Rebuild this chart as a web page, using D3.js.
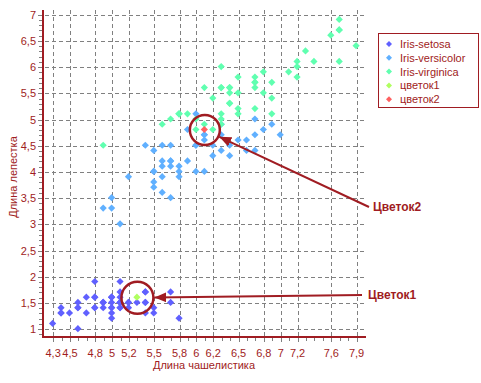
<!DOCTYPE html>
<html><head><meta charset="utf-8">
<script src="https://cdn.jsdelivr.net/npm/d3@7"></script>
<style>body{margin:0;background:#fff}svg{display:block}text{font-family:"Liberation Sans",Arial,sans-serif}</style>
</head><body>
<script>
// Sepal length / petal length pairs per species
const setosaX = [5.1,4.9,4.7,4.6,5.0,5.4,4.6,5.0,4.4,4.9,5.4,4.8,4.8,4.3,5.8,5.7,5.4,5.1,5.7,5.1,5.4,5.1,4.6,5.1,4.8,5.0,5.0,5.2,5.2,4.7,4.8,5.4,5.2,5.5,4.9,5.0,5.5,4.9,4.4,5.1,5.0,4.5,4.4,5.0,5.1,4.8,5.1,4.6,5.3,5.0];
const setosaY = [1.4,1.4,1.3,1.5,1.4,1.7,1.4,1.5,1.4,1.5,1.5,1.6,1.4,1.1,1.2,1.5,1.3,1.4,1.7,1.5,1.7,1.5,1.0,1.7,1.9,1.6,1.6,1.5,1.4,1.6,1.6,1.5,1.5,1.4,1.5,1.2,1.3,1.5,1.3,1.5,1.3,1.3,1.3,1.6,1.9,1.4,1.6,1.4,1.5,1.4];
const versicolorX = [7.0,6.4,6.9,5.5,6.5,5.7,6.3,4.9,6.6,5.2,5.0,5.9,6.0,6.1,5.6,6.7,5.6,5.8,6.2,5.6,5.9,6.1,6.3,6.1,6.4,6.6,6.8,6.7,6.0,5.7,5.5,5.5,5.8,6.0,5.4,6.0,6.7,6.3,5.6,5.5,5.5,6.1,5.8,5.0,5.6,5.7,5.7,6.2,5.1,5.7];
const versicolorY = [4.7,4.5,4.9,4.0,4.6,4.5,4.7,3.3,4.6,3.9,3.5,4.2,4.0,4.7,3.6,4.4,4.5,4.1,4.5,3.9,4.8,4.0,4.9,4.7,4.3,4.4,4.8,5.0,4.5,3.5,3.8,3.7,3.9,5.1,4.5,4.5,4.7,4.4,4.1,4.0,4.4,4.6,4.0,3.3,4.2,4.2,4.2,4.3,3.0,4.1];
const virginicaX = [6.3,5.8,7.1,6.3,6.5,7.6,4.9,7.3,6.7,7.2,6.5,6.4,6.8,5.7,5.8,6.4,6.5,7.7,7.7,6.0,6.9,5.6,7.7,6.3,6.7,7.2,6.2,6.1,6.4,7.2,7.4,7.9,6.4,6.3,6.1,7.7,6.3,6.4,6.0,6.9,6.7,6.9,5.8,6.8,6.7,6.7,6.3,6.5,6.2,5.9];
const virginicaY = [6.0,5.1,5.9,5.6,5.8,6.6,4.5,6.3,5.8,6.1,5.1,5.3,5.5,5.0,5.1,5.3,5.5,6.7,6.9,5.0,5.7,4.9,6.7,4.9,5.7,6.0,4.8,4.9,5.6,5.8,6.1,6.4,5.6,5.1,5.6,6.1,5.6,5.5,4.8,5.4,5.6,5.1,5.1,5.9,5.7,5.2,5.0,5.2,5.4,5.1];
const flower1X = [5.3];
const flower1Y = [1.6];
const flower2X = [6.1];
const flower2Y = [4.8];

const seriesNames = ["Iris-setosa","Iris-versicolor","Iris-virginica","цветок1","цветок2"];
const seriesColors = ["#6060ff","#60b0ff","#60ffb0","#b0ff60","#ff6060"];
const xTickValues = [4.3,4.5,4.8,5,5.2,5.5,5.8,6,6.2,6.5,6.8,7,7.2,7.6,7.9];
const yTickValues = [1,1.5,2,2.5,3,3.5,4,4.5,5,5.5,6,6.5,7];
const xTitle = "Длина чашелистика";
const yTitle = "Длина лепестка";
const callouts = ["Цветок1","Цветок2"];

const W = 481, H = 383;
const dark = "#a01c22";
const svg = d3.select("body").append("svg").attr("width", W).attr("height", H);

const x = d3.scaleLinear().domain([4.18, 8.0]).range([43, 365]);
const y = d3.scaleLinear().domain([0.85, 7.09]).range([337, 10]);
const fmt = v => String(v).replace(".", ",");

// grid
const grid = svg.append("g").attr("stroke", "#808080").attr("stroke-dasharray", "4,3").attr("stroke-width", 1);
grid.selectAll("line.v").data(xTickValues).join("line")
  .attr("x1", d => Math.round(x(d)) + 0.5).attr("x2", d => Math.round(x(d)) + 0.5)
  .attr("y1", 10).attr("y2", 342);
grid.selectAll("line.h").data(yTickValues).join("line")
  .attr("y1", d => Math.round(y(d)) + 0.5).attr("y2", d => Math.round(y(d)) + 0.5)
  .attr("x1", 38).attr("x2", 366);

// minor ticks
const minorX = d3.range(43, 80).map(i => i / 10);
svg.append("g").attr("stroke", "#808080").selectAll("line").data(minorX).join("line")
  .attr("x1", d => Math.round(x(d)) + 0.5).attr("x2", d => Math.round(x(d)) + 0.5)
  .attr("y1", 338).attr("y2", 341);
const minorY = d3.range(9, 71).map(i => i / 10);
svg.append("g").attr("stroke", "#808080").selectAll("line").data(minorY).join("line")
  .attr("y1", d => Math.round(y(d)) + 0.5).attr("y2", d => Math.round(y(d)) + 0.5)
  .attr("x1", 39).attr("x2", 42);

// axes lines
svg.append("line").attr("x1", 43).attr("x2", 43).attr("y1", 10).attr("y2", 338).attr("stroke", dark).attr("stroke-width", 2);
svg.append("line").attr("x1", 42).attr("x2", 366).attr("y1", 337).attr("y2", 337).attr("stroke", dark).attr("stroke-width", 2);

// tick labels
svg.append("g").selectAll("text").data(xTickValues).join("text")
  .attr("x", d => x(d)).attr("y", 357).attr("text-anchor", "middle")
  .attr("font-size", 11).attr("fill", dark).text(fmt);
svg.append("g").selectAll("text").data(yTickValues).join("text")
  .attr("x", 36).attr("y", d => y(d) + 4).attr("text-anchor", "end")
  .attr("font-size", 11).attr("fill", dark).text(fmt);

// titles
svg.append("text").attr("x", 204).attr("y", 369).attr("text-anchor", "middle")
  .attr("font-size", 11).attr("fill", dark).text(xTitle);
svg.append("text").attr("transform", "translate(16.5,177) rotate(-90)").attr("text-anchor", "middle")
  .attr("font-size", 11).attr("fill", dark).text(yTitle);

// points
const diamond = "M0,-3.6L3.6,0L0,3.6L-3.6,0Z";
const seriesData = [
  [setosaX, setosaY], [versicolorX, versicolorY], [virginicaX, virginicaY],
  [flower1X, flower1Y], [flower2X, flower2Y]
];
seriesData.forEach(([xs, ys], i) => {
  svg.append("g").selectAll("path").data(xs.map((v, j) => [v, ys[j]])).join("path")
    .attr("d", diamond)
    .attr("transform", d => `translate(${x(d[0]) - 0.5},${y(d[1]) - 0.5})`)
    .attr("fill", seriesColors[i]);
});

// legend
const lg = svg.append("g");
lg.append("rect").attr("x", 378.5).attr("y", 33.5).attr("width", 100).attr("height", 74)
  .attr("fill", "#fff").attr("stroke", dark);
seriesNames.forEach((n, i) => {
  const yy = 44 + i * 13.8;
  lg.append("path").attr("d", "M0,-3L3,0L0,3L-3,0Z").attr("transform", `translate(389,${yy})`).attr("fill", seriesColors[i]);
  lg.append("text").attr("x", 400).attr("y", yy + 4).attr("font-size", 11).attr("fill", dark).text(n);
});

// callouts
const defs = svg.append("defs");
defs.append("marker").attr("id", "ah").attr("viewBox", "0 0 12 10").attr("refX", 12).attr("refY", 5)
  .attr("markerWidth", 12).attr("markerHeight", 10).attr("markerUnits", "userSpaceOnUse").attr("orient", "auto")
  .append("path").attr("d", "M0,0L12,5L0,10Z").attr("fill", dark);

const ann = [
  {cx: x(flower1X[0]), cy: y(flower1Y[0]), r: 16, tail: [362, 295], label: callouts[0], lx: 368, ly: 299},
  {cx: x(flower2X[0]), cy: y(flower2Y[0]), r: 15, tail: [369, 207], label: callouts[1], lx: 373, ly: 211}
];
ann.forEach(a => {
  svg.append("circle").attr("cx", a.cx).attr("cy", a.cy).attr("r", a.r)
    .attr("fill", "none").attr("stroke", dark).attr("stroke-width", 2.5);
  const dx = a.tail[0] - a.cx, dy = a.tail[1] - a.cy, L = Math.hypot(dx, dy);
  const tip = [a.cx + dx / L * (a.r + 1), a.cy + dy / L * (a.r + 1)];
  svg.append("line").attr("x1", a.tail[0]).attr("y1", a.tail[1]).attr("x2", tip[0]).attr("y2", tip[1])
    .attr("stroke", dark).attr("stroke-width", 2).attr("marker-end", "url(#ah)");
  svg.append("text").attr("x", a.lx).attr("y", a.ly).attr("font-size", 12).attr("font-weight", "bold")
    .attr("fill", dark).text(a.label);
});
</script>
</body></html>
